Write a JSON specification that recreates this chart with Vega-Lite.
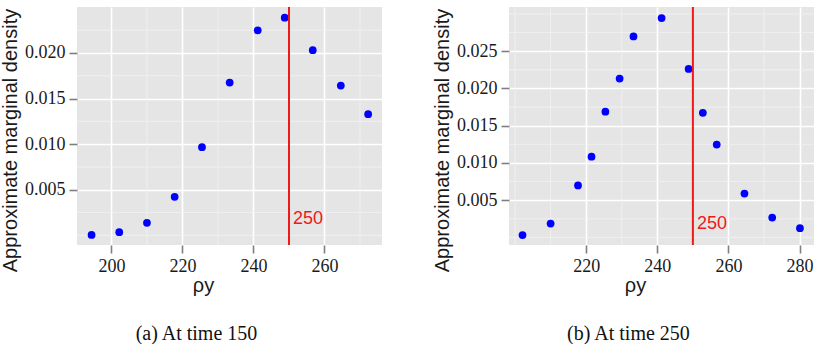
{
  "$schema": "https://vega.github.io/schema/vega-lite/v6.json",
  "padding": {"left": 0, "top": 6, "right": 4, "bottom": 0},
  "spacing": 49,
  "config": {
    "view": {"fill": "#E5E5E5", "stroke": null},
    "style": {
      "guide-label": {"font": "Liberation Serif", "fontSize": 18, "fill": "#1A1A1A"},
      "guide-title": {"font": "Liberation Sans", "fontSize": 20, "fontWeight": "normal", "fill": "#1A1A1A"}
    },
    "axis": {
      "domain": false,
      "grid": true,
      "gridColor": "#FFFFFF",
      "gridWidth": 1.6,
      "tickColor": "#7F7F7F",
      "tickWidth": 1.6,
      "tickSize": 8,
      "labelPadding": 4,
      "labelFont": "Liberation Serif",
      "labelFontSize": 18,
      "labelColor": "#1A1A1A",
      "titleFont": "Liberation Sans",
      "titleFontSize": 20,
      "titleFontWeight": "normal",
      "titleColor": "#1A1A1A"
    },
    "axisX": {"titlePadding": 0, "titleX": 126},
    "axisY": {"titleY": 133, "titleAlign": "center"},
    "title": {"font": "Liberation Serif", "fontSize": 20, "fontWeight": "normal", "color": "#111111", "orient": "bottom", "anchor": "middle", "frame": "bounds", "dx": 5, "offset": 29}
  },
  "datasets": {
    "time150": [
      {"rho": 194.4, "density": 0.00004},
      {"rho": 202.2, "density": 0.00034},
      {"rho": 210.0, "density": 0.00137},
      {"rho": 217.8, "density": 0.00423},
      {"rho": 225.5, "density": 0.00966},
      {"rho": 233.3, "density": 0.01675},
      {"rho": 241.2, "density": 0.02248},
      {"rho": 248.8, "density": 0.02387},
      {"rho": 256.7, "density": 0.02030},
      {"rho": 264.6, "density": 0.01642},
      {"rho": 272.3, "density": 0.01329}
    ],
    "time250": [
      {"rho": 202.1, "density": 0.00032},
      {"rho": 210.0, "density": 0.00185},
      {"rho": 217.7, "density": 0.00697},
      {"rho": 221.5, "density": 0.01084},
      {"rho": 225.4, "density": 0.01687},
      {"rho": 229.4, "density": 0.02132},
      {"rho": 233.3, "density": 0.02698},
      {"rho": 241.2, "density": 0.02945},
      {"rho": 248.8, "density": 0.02261},
      {"rho": 252.8, "density": 0.01673},
      {"rho": 256.7, "density": 0.01246},
      {"rho": 264.5, "density": 0.00589},
      {"rho": 272.3, "density": 0.00266},
      {"rho": 280.1, "density": 0.00123}
    ],
    "truth": [{"rho": 250, "density": 0.0018, "label": "250"}]
  },
  "hconcat": [
    {
      "width": 305,
      "height": 238,
      "title": {"text": "(a) At time 150"},
      "layer": [
        {
          "data": {"values": [{"v": 210}, {"v": 230}, {"v": 250}, {"v": 270}]},
          "mark": {"type": "rule", "color": "#F2F2F2", "strokeWidth": 0.8},
          "encoding": {"x": {"field": "v", "type": "quantitative", "title": "ρy"}}
        },
        {
          "data": {"values": [{"v": 0}, {"v": 0.0025}, {"v": 0.0075}, {"v": 0.0125}, {"v": 0.0175}, {"v": 0.0225}]},
          "mark": {"type": "rule", "color": "#F2F2F2", "strokeWidth": 0.8},
          "encoding": {"y": {"field": "v", "type": "quantitative", "title": "Approximate marginal density"}}
        },
        {
          "data": {"name": "time150"},
          "mark": {"type": "point", "filled": true, "color": "#0000FF", "opacity": 1, "size": 60},
          "encoding": {
            "x": {
              "field": "rho", "type": "quantitative", "title": "ρy",
              "scale": {"domain": [190.3, 276.2], "nice": false, "zero": false},
              "axis": {"values": [200, 220, 240, 260]}
            },
            "y": {
              "field": "density", "type": "quantitative", "title": "Approximate marginal density",
              "scale": {"domain": [-0.00106, 0.02504], "nice": false, "zero": false},
              "axis": {"values": [0.005, 0.01, 0.015, 0.02], "format": ".3f"}
            }
          }
        },
        {
          "data": {"name": "truth"},
          "mark": {"type": "rule", "color": "#F01818", "strokeWidth": 2},
          "encoding": {"x": {"field": "rho", "type": "quantitative", "title": "ρy"}}
        },
        {
          "data": {"name": "truth"},
          "mark": {"type": "text", "color": "#F01818", "font": "Liberation Sans", "fontSize": 18, "align": "left", "baseline": "middle", "dx": 4},
          "encoding": {
            "x": {"field": "rho", "type": "quantitative", "title": "ρy"},
            "y": {"field": "density", "type": "quantitative", "title": "Approximate marginal density"},
            "text": {"field": "label"}
          }
        }
      ]
    },
    {
      "width": 305,
      "height": 238,
      "title": {"text": "(b) At time 250"},
      "layer": [
        {
          "data": {"values": [{"v": 200}, {"v": 210}, {"v": 230}, {"v": 250}, {"v": 270}]},
          "mark": {"type": "rule", "color": "#F2F2F2", "strokeWidth": 0.8},
          "encoding": {"x": {"field": "v", "type": "quantitative", "title": "ρy"}}
        },
        {
          "data": {"values": [{"v": 0}, {"v": 0.0025}, {"v": 0.0075}, {"v": 0.0125}, {"v": 0.0175}, {"v": 0.0225}, {"v": 0.0275}, {"v": 0.03}]},
          "mark": {"type": "rule", "color": "#F2F2F2", "strokeWidth": 0.8},
          "encoding": {"y": {"field": "v", "type": "quantitative", "title": "Approximate marginal density"}}
        },
        {
          "data": {"name": "time250"},
          "mark": {"type": "point", "filled": true, "color": "#0000FF", "opacity": 1, "size": 60},
          "encoding": {
            "x": {
              "field": "rho", "type": "quantitative", "title": "ρy",
              "scale": {"domain": [198.3, 284.05], "nice": false, "zero": false},
              "axis": {"values": [220, 240, 260, 280]}
            },
            "y": {
              "field": "density", "type": "quantitative", "title": "Approximate marginal density",
              "scale": {"domain": [-0.00102, 0.03093], "nice": false, "zero": false},
              "axis": {"values": [0.005, 0.01, 0.015, 0.02, 0.025], "format": ".3f"}
            }
          }
        },
        {
          "data": {"name": "truth"},
          "mark": {"type": "rule", "color": "#F01818", "strokeWidth": 2},
          "encoding": {"x": {"field": "rho", "type": "quantitative", "title": "ρy"}}
        },
        {
          "data": {"name": "truth"},
          "mark": {"type": "text", "color": "#F01818", "font": "Liberation Sans", "fontSize": 18, "align": "left", "baseline": "middle", "dx": 4},
          "encoding": {
            "x": {"field": "rho", "type": "quantitative", "title": "ρy"},
            "y": {"field": "density", "type": "quantitative", "title": "Approximate marginal density"},
            "text": {"field": "label"}
          }
        }
      ]
    }
  ]
}
